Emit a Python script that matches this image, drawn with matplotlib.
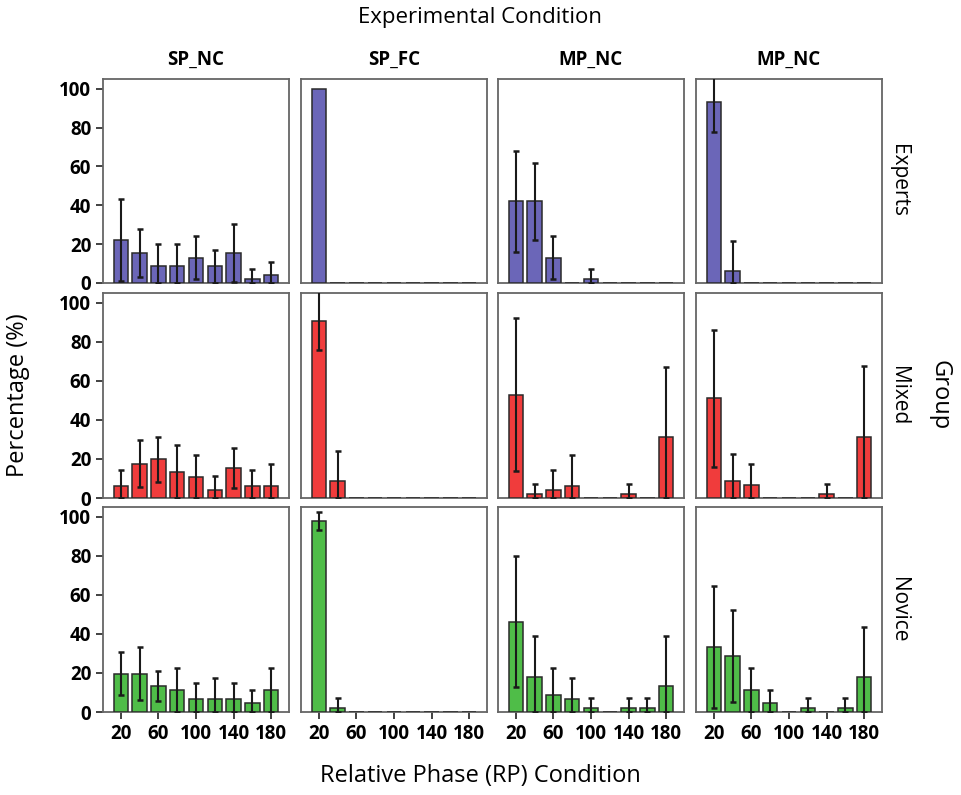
import numpy as np
import matplotlib.pyplot as plt

plt.rcParams['font.family'] = ['Open Sans', 'DejaVu Sans']

rp = [20, 40, 60, 80, 100, 120, 140, 160, 180]
conditions = ['SP_NC', 'SP_FC', 'MP_NC', 'MP_NC']
groups = ['Experts', 'Mixed', 'Novice']
colors = {'Experts': '#6b66b8', 'Mixed': '#f03c3c', 'Novice': '#4fbd48'}

# mean percentage per RP condition
experts_mean = [
    [22, 15.5, 8.5, 8.5, 13, 8.5, 15.5, 2, 4],
    [100, 0, 0, 0, 0, 0, 0, 0, 0],
    [42, 42, 13, 0, 2, 0, 0, 0, 0],
    [93.4, 6.2, 0, 0, 0, 0, 0, 0, 0],
]
experts_sd = [
    [21, 12.5, 11.5, 11.5, 11, 8.5, 15, 5, 7],
    [0, 0, 0, 0, 0, 0, 0, 0, 0],
    [26, 20, 11, 0, 5, 0, 0, 0, 0],
    [15.5, 15.5, 0, 0, 0, 0, 0, 0, 0],
]
mixed_mean = [
    [6.4, 17.5, 19.8, 13.2, 10.7, 4.3, 15.3, 6.4, 6.4],
    [90.9, 8.6, 0, 0, 0, 0, 0, 0, 0],
    [53, 2, 4.1, 6.4, 0, 0, 2, 0, 31],
    [51, 8.9, 6.7, 0, 0, 0, 2, 0, 31],
]
mixed_sd = [
    [8, 12, 11.5, 13.8, 11.5, 7, 10.3, 8, 11],
    [15, 15.5, 0, 0, 0, 0, 0, 0, 0],
    [39, 5.2, 10.3, 15.4, 0, 0, 5.2, 0, 36],
    [35.3, 13.4, 10.8, 0, 0, 0, 5.2, 0, 36.4],
]
novice_mean = [
    [19.7, 19.7, 13.2, 11.1, 6.5, 6.5, 6.5, 4.6, 11.1],
    [97.8, 2, 0, 0, 0, 0, 0, 0, 0],
    [46.3, 18, 8.9, 6.5, 2, 0, 2, 2, 13.4],
    [33.4, 28.6, 11.1, 4.6, 0, 2, 0, 2, 17.7],
]
novice_sd = [
    [11.2, 13.7, 7.7, 11.2, 8.1, 11, 8.1, 6.5, 11.2],
    [4.8, 5.4, 0, 0, 0, 0, 0, 0, 0],
    [33.7, 21, 13.7, 11, 5.4, 0, 5.4, 5.4, 25.6],
    [31.3, 23.7, 11.2, 6.5, 0, 5.4, 0, 5.4, 26],
]
means = {'Experts': experts_mean, 'Mixed': mixed_mean, 'Novice': novice_mean}
sds = {'Experts': experts_sd, 'Mixed': mixed_sd, 'Novice': novice_sd}

W, H = 962, 795
fig = plt.figure(figsize=(W / 100, H / 100), dpi=100)

col_x = [(103, 289), (301, 487), (498, 684), (696, 882)]
row_y = [(79, 283), (293, 498), (507, 712)]

frame_col = '#666666'
for r, g in enumerate(groups):
    for c, cond in enumerate(conditions):
        x0, x1 = col_x[c]
        y0, y1 = row_y[r]
        ax = fig.add_axes([x0 / W, 1 - y1 / H, (x1 - x0) / W, (y1 - y0) / H])
        m = np.array(means[g][c])
        s = np.array(sds[g][c])
        ax.bar(rp, m, width=15.5, color=colors[g], edgecolor='#2a2a2a',
               linewidth=1.1, zorder=3)
        lower = np.minimum(s, m)
        has_err = s > 0
        ax.errorbar(np.array(rp)[has_err], m[has_err],
                    yerr=[lower[has_err], s[has_err]], fmt='none',
                    ecolor='#1a1a1a', elinewidth=1.5, capsize=2, capthick=1.8,
                    zorder=4)
        ax.set_xlim(1, 199)
        ax.set_ylim(0, 105)
        for sp in ax.spines.values():
            sp.set_color(frame_col)
            sp.set_linewidth(1.3)
            sp.set_zorder(2)
        ax.tick_params(length=5, width=1.3, color='#333333')
        if c == 0:
            ax.set_yticks([0, 20, 40, 60, 80, 100])
            ax.set_yticklabels(['0', '20', '40', '60', '80', '100'],
                               fontsize=13.5, fontweight='bold')
        else:
            ax.set_yticks([])
        if r == 2:
            ax.set_xticks([20, 60, 100, 140, 180])
            ax.set_xticklabels(['20', '60', '100', '140', '180'],
                               fontsize=13.5, fontweight='bold')
        else:
            ax.set_xticks([])
        if r == 0:
            ax.set_title(cond, fontsize=13.5, fontweight='bold', pad=10)
        if c == 3:
            ax.text(1.09, 0.5, g, transform=ax.transAxes, rotation=-90,
                    ha='center', va='center', fontsize=15)

fig.text(480 / W, 1 - 18 / H, 'Experimental Condition', ha='center',
         va='center', fontsize=16)
fig.text(18 / W, 1 - 395 / H, 'Percentage (%)', ha='center', va='center',
         rotation=90, fontsize=17)
fig.text(940 / W, 1 - 395 / H, 'Group', ha='center', va='center',
         rotation=-90, fontsize=17)
fig.text(480 / W, 1 - 776 / H, 'Relative Phase (RP) Condition', ha='center',
         va='center', fontsize=17)

fig.savefig('out.png', dpi=100)
